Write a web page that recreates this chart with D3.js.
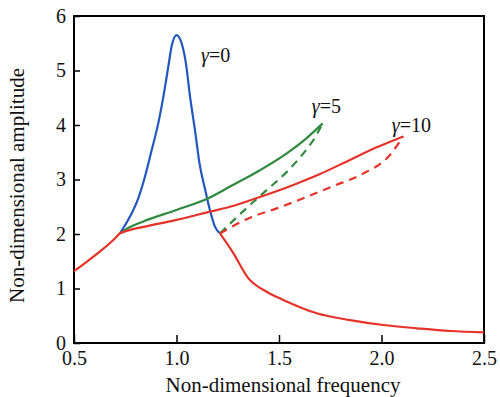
<!DOCTYPE html>
<html><head><meta charset="utf-8">
<script src="https://cdn.jsdelivr.net/npm/d3@7"></script>
<style>body{margin:0;background:#fff}svg{display:block}</style>
</head><body>
<script>
// ---- data ----
const xTicks = [0.5, 1.0, 1.5, 2.0, 2.5];
const yTicks = [0, 1, 2, 3, 4, 5, 6];

// gamma = 0 (blue) resonance peak
const blueFreq = [0.724, 0.773, 0.814, 0.846, 0.879, 0.911, 0.936, 0.96, 0.976, 1.0, 1.025, 1.046, 1.066, 1.09, 1.112, 1.14, 1.163, 1.188, 1.212];
const blueAmp  = [2.01, 2.32, 2.66, 3.05, 3.54, 4.03, 4.52, 5.07, 5.44, 5.65, 5.50, 5.13, 4.52, 3.91, 3.30, 2.81, 2.44, 2.13, 2.01];

// gamma = 5 (green) upper branch and dashed unstable branch
const greenFreq = [0.724, 0.76, 0.838, 1.0, 1.163, 1.261, 1.407, 1.538, 1.635, 1.713];
const greenAmp  = [2.01, 2.10, 2.23, 2.44, 2.67, 2.87, 3.17, 3.48, 3.76, 4.03];
const greenDashFreq = [1.212, 1.326, 1.423, 1.538, 1.619, 1.667, 1.713];
const greenDashAmp  = [2.01, 2.42, 2.75, 3.14, 3.48, 3.72, 4.03];

// gamma = 10 (red) upper branch, dashed branch, and common lower branch
const redFreq = [0.5, 0.562, 0.627, 0.692, 0.724, 0.76, 0.838, 1.0, 1.163, 1.261, 1.407, 1.57, 1.70, 1.846, 1.977, 2.106];
const redAmp  = [1.32, 1.49, 1.68, 1.89, 2.01, 2.06, 2.13, 2.26, 2.41, 2.50, 2.68, 2.90, 3.10, 3.36, 3.59, 3.79];
const redDashFreq = [1.212, 1.359, 1.489, 1.635, 1.765, 1.895, 2.041, 2.106];
const redDashAmp  = [2.01, 2.30, 2.47, 2.68, 2.88, 3.08, 3.45, 3.79];
const lowFreq = [1.212, 1.277, 1.35, 1.44, 1.521, 1.684, 1.846, 2.009, 2.172, 2.334, 2.5];
const lowAmp  = [2.01, 1.65, 1.19, 0.94, 0.79, 0.545, 0.42, 0.33, 0.27, 0.22, 0.196];

const labels = [
  {g: "0", f: 1.12, a: 5.16},
  {g: "5", f: 1.66, a: 4.22},
  {g: "10", f: 2.05, a: 3.88}
];

const W = 500, H = 397;
const M = {l: 74, r: 16, t: 16, b: 54};
const FONT = '"Liberation Serif"';
const svg = d3.select("body").append("svg").attr("width", W).attr("height", H);

const x = d3.scaleLinear().domain([0.5, 2.5]).range([M.l, W - M.r]);
const y = d3.scaleLinear().domain([0, 6]).range([H - M.b, M.t]);

// axes
const gx = svg.append("g").attr("transform", `translate(0,${y(0)})`)
  .call(d3.axisBottom(x).tickValues(xTicks).tickFormat(d3.format(".1f"))
    .tickSizeInner(-8).tickSizeOuter(0).tickPadding(8));
const gy = svg.append("g").attr("transform", `translate(${x(0.5)},0)`)
  .call(d3.axisLeft(y).tickValues(yTicks).tickFormat(d3.format("d"))
    .tickSizeInner(-6).tickSizeOuter(0).tickPadding(8));
[gx, gy].forEach(g => {
  g.select(".domain").remove();
  g.selectAll(".tick line").attr("stroke", "#000").attr("stroke-width", 1.5);
  g.selectAll(".tick text").style("font-family", FONT).attr("font-size", 20).attr("fill", "#111");
});

// frame
svg.append("rect").attr("x", x(0.5)).attr("y", y(6))
  .attr("width", x(2.5) - x(0.5)).attr("height", y(0) - y(6))
  .attr("fill", "none").attr("stroke", "#000").attr("stroke-width", 2);

const line = d3.line().x(d => x(d[0])).y(d => y(d[1])).curve(d3.curveMonotoneX);
const zip = (a, b) => a.map((v, i) => [v, b[i]]);

const BLUE = "#2357bf", GREEN = "#2e8a3e", RED = "#e6332a";
function draw(f, a, color, dash) {
  svg.append("path").datum(zip(f, a)).attr("d", line)
    .attr("fill", "none").attr("stroke", color).attr("stroke-width", 2.2)
    .attr("stroke-linejoin", "round")
    .attr("stroke-dasharray", dash ? "8,6" : null);
}
draw(blueFreq, blueAmp, BLUE, false);
draw(greenFreq, greenAmp, GREEN, false);
draw(greenDashFreq, greenDashAmp, GREEN, true);
draw(redFreq, redAmp, RED, false);
draw(redDashFreq, redDashAmp, RED, true);
draw(lowFreq, lowAmp, RED, false);

// curve labels
labels.forEach(d => {
  const t = svg.append("text").attr("x", x(d.f)).attr("y", y(d.a))
    .style("font-family", FONT).attr("font-size", 20).attr("fill", "#111");
  t.append("tspan").attr("font-style", "italic").text("γ");
  t.append("tspan").text("=" + d.g);
});

// axis titles
svg.append("text").attr("x", 283).attr("y", 392).attr("text-anchor", "middle")
  .style("font-family", FONT).attr("font-size", 21).attr("fill", "#111")
  .text("Non-dimensional frequency");
svg.append("text").attr("transform", "translate(24,185.5) rotate(-90)").attr("text-anchor", "middle")
  .style("font-family", FONT).attr("font-size", 21).attr("fill", "#111")
  .text("Non-dimensional amplitude");
</script>
</body></html>
